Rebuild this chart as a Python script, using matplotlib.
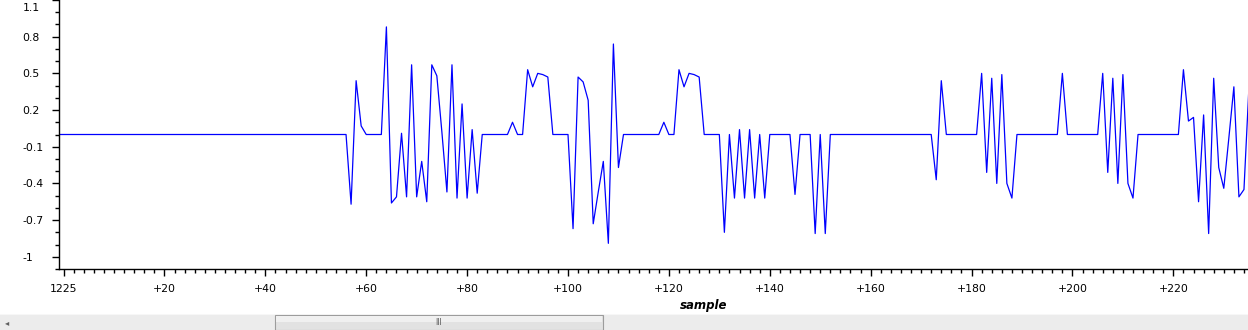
import matplotlib
matplotlib.use("Agg")
import matplotlib.pyplot as plt
import matplotlib.transforms as mtransforms
from matplotlib.patches import Rectangle
import numpy as np

# signal: zero everywhere except these bursts
first_sample = -1
last_sample = 235
burst_start = [57, 64, 89, 92, 101, 119, 122, 131, 145, 149, 173, 182, 198, 206, 222]
burst_values = [
    [-0.57, 0.44, 0.07],
    [0.88, -0.56, -0.51, 0.01, -0.51, 0.57, -0.51, -0.22, -0.55, 0.57,
     0.48, 0.02, -0.47, 0.57, -0.52, 0.25, -0.52, 0.04, -0.48],
    [0.10],
    [0.53, 0.39, 0.50, 0.49, 0.47],
    [-0.77, 0.47, 0.43, 0.28, -0.73, -0.47, -0.22, -0.89, 0.74, -0.27],
    [0.10],
    [0.53, 0.39, 0.50, 0.49, 0.47],
    [-0.80, 0.0, -0.52, 0.04, -0.52, 0.04, -0.52, 0.0, -0.52],
    [-0.49],
    [-0.81, 0.0, -0.81],
    [-0.37, 0.44],
    [0.50, -0.31, 0.46, -0.40, 0.49, -0.40, -0.52],
    [0.50],
    [0.50, -0.31, 0.46, -0.40, 0.49, -0.40, -0.52],
    [0.53, 0.11, 0.14, -0.55, 0.16, -0.81, 0.46, -0.27, -0.44, -0.03,
     0.39, -0.51, -0.45, 0.40],
]

x_ticks = list(range(0, 221, 20))
x_labels = ["1225"] + ["+%d" % t for t in x_ticks[1:]]
y_ticks = [-1.0, -0.7, -0.4, -0.1, 0.2, 0.5, 0.8, 1.1]
y_labels = ["-1", "-0.7", "-0.4", "-0.1", "0.2", "0.5", "0.8", "1.1"]

idx = np.arange(first_sample, last_sample + 1)
signal = np.zeros(len(idx))
for start, vals in zip(burst_start, burst_values):
    i0 = start - first_sample
    signal[i0:i0 + len(vals)] = vals

W, H = 1248, 330
fig = plt.figure(figsize=(W / 100, H / 100), dpi=100)
fig.patch.set_facecolor("white")

left, bottom_px = 58.5, 269.0
ax = fig.add_axes([left / W, (H - bottom_px) / H, 1 - left / W, bottom_px / H])
ax.plot(idx, signal, color="#0000ff", lw=0.9)

ax.set_xlim(-1, 234.8)
ax.set_ylim(-1.1, 1.1)
for s in ["top", "right"]:
    ax.spines[s].set_visible(False)
for s in ["left", "bottom"]:
    ax.spines[s].set_linewidth(1.0)
    ax.spines[s].set_color("black")

ax.set_xticks(x_ticks)
ax.set_xticklabels(x_labels)
ax.set_xticks(np.arange(0, 235, 2), minor=True)
ax.set_yticks(y_ticks)
ax.set_yticklabels(y_labels)
ax.set_yticks(np.arange(-1.1, 1.101, 0.1), minor=True)

ax.tick_params(which="major", length=5, width=1, labelsize=7.8, color="black")
ax.tick_params(which="minor", length=3, width=1, color="black")
ax.tick_params(axis="x", which="major", pad=6)
ax.tick_params(axis="y", which="major", pad=21)
for lab in ax.get_yticklabels():
    lab.set_horizontalalignment("left")
# top label sits inside the window, just below the edge
top_lab = ax.get_yticklabels()[-1]
top_lab.set_verticalalignment("top")
top_lab.set_transform(top_lab.get_transform() +
                      mtransforms.ScaledTranslation(0, -3 / 100, fig.dpi_scale_trans))

fig.text(704 / W, 1 - 305 / H, "sample", ha="center", va="center",
         fontsize=8.5, fontweight="bold", fontstyle="italic")

# scrollbar strip at the bottom
sb = fig.add_axes([0, 0, 1, 16 / H])
sb.set_xlim(0, W)
sb.set_ylim(0, 16)
sb.axis("off")
sb.add_patch(Rectangle((0, 0), W, 16, facecolor="#ececec", edgecolor="none"))
sb.add_patch(Rectangle((0, 15), W, 1, facecolor="#f7f7f7", edgecolor="none"))
sb.add_patch(Rectangle((275, 0.5), 328, 14.5, facecolor="#e2e2e2",
                       edgecolor="#9c9c9c", lw=0.8))
sb.add_patch(Rectangle((276, 8), 326, 6.5, facecolor="#f0f0f0", edgecolor="none"))
sb.text(439, 7.5, "III", ha="center", va="center", fontsize=5.5, color="#555555")
sb.text(7, 7.5, "\u25c2", ha="center", va="center", fontsize=6, color="#606060")

fig.savefig("out.png", dpi=100)
